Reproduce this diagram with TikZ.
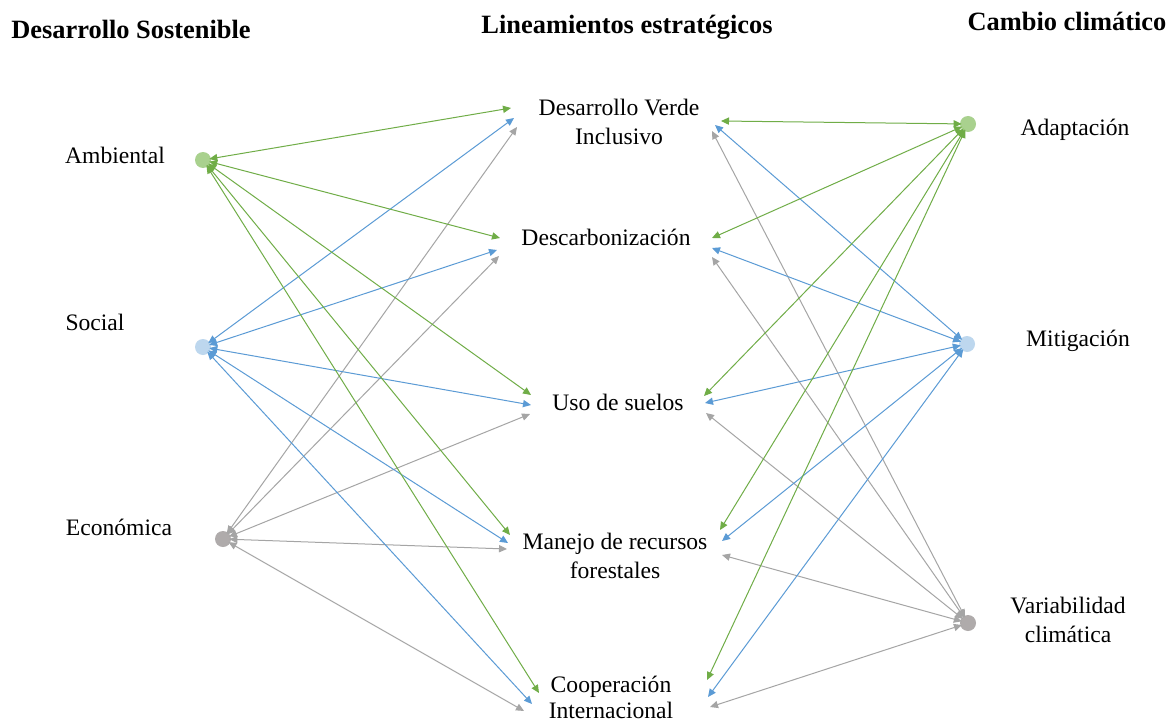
\documentclass[tikz,border=0pt]{standalone}
\usepackage{fontspec}
\setmainfont{Liberation Serif}
\usetikzlibrary{arrows.meta}
\definecolor{gline}{HTML}{70AD47}
\definecolor{bline}{HTML}{5B9BD5}
\definecolor{yline}{HTML}{A5A5A5}
\definecolor{gdot}{HTML}{A9D18E}
\definecolor{bdot}{HTML}{BDD7EE}
\definecolor{ydot}{HTML}{AFABAB}
\begin{document}
\begin{tikzpicture}[x=0.5pt,y=-0.5pt,
  lbl/.style={font=\fontsize{11.8}{14.5}\selectfont, align=center, inner sep=0pt},
  hdr/.style={font=\fontsize{13.2}{15}\selectfont\bfseries, inner sep=0pt, anchor=base},
  dot/.style={circle, minimum size=8pt, inner sep=0pt, draw=none},
  con/.style={line width=0.5pt, shorten <=-1pt, {Triangle[length=4pt,width=3.6pt]}-{Triangle[length=4pt,width=3.6pt]}},
  gc/.style={con, draw=gline},
  bc/.style={con, draw=bline},
  yc/.style={con, draw=yline}]
\useasboundingbox (0,0) rectangle (1172,722);
\fill[white] (0,0) rectangle (1172,722);

% headers
\node[hdr] (h1) at (131,39) {Desarrollo Sostenible};
\node[hdr] (h2) at (627,34) {Lineamientos estratégicos};
\node[hdr] (h3) at (1067,31) {Cambio climático};

% left labels
\node[lbl, anchor=base] (tamb) at (115,163) {Ambiental};
\node[lbl, anchor=base] (tsoc) at (95,330) {Social};
\node[lbl, anchor=base] (teco) at (119,535) {Económica};

% middle labels
\node[lbl] (tdvi) at (619,121.5) {Desarrollo Verde\\Inclusivo};
\node[lbl, anchor=base] (tdes) at (606,245) {Descarbonización};
\node[lbl, anchor=base] (tuso) at (618,410) {Uso de suelos};
\node[lbl] (tman) at (615,556) {Manejo de recursos\\forestales};
\node[lbl, font=\fontsize{11.8}{13}\selectfont] (tcoo) at (611,697) {Cooperación\\Internacional};

% right labels
\node[lbl, anchor=base] (tada) at (1075,135) {Adaptación};
\node[lbl, anchor=base] (tmit) at (1078,346) {Mitigación};
\node[lbl] (tvar) at (1068,619.5) {Variabilidad\\climática};

% dots
\node[dot, fill=gdot] (amb) at (203,160) {};
\node[dot, fill=bdot] (soc) at (203,347) {};
\node[dot, fill=ydot] (eco) at (223,539) {};
\node[dot, fill=gdot] (ada) at (968,124) {};
\node[dot, fill=bdot] (mit) at (967,344) {};
\node[dot, fill=ydot] (var) at (968,623) {};

% middle ends, left side
\coordinate (gL1) at (511,108);
\coordinate (bL1) at (514,118);
\coordinate (yL1) at (517,127);
\coordinate (gL2) at (500,238);
\coordinate (bL2) at (497,250);
\coordinate (yL2) at (499,256);
\coordinate (gL3) at (531,395);
\coordinate (bL3) at (531,405);
\coordinate (yL3) at (530,414);
\coordinate (gL4) at (510,535);
\coordinate (bL4) at (508,543);
\coordinate (yL4) at (507,549);
\coordinate (gL5) at (539,693);
\coordinate (bL5) at (532,704);
\coordinate (yL5) at (524,711);

% middle ends, right side
\coordinate (gR1) at (721,121);
\coordinate (bR1) at (715,125);
\coordinate (yR1) at (712,131);
\coordinate (gR2) at (712,238);
\coordinate (bR2) at (712,248);
\coordinate (yR2) at (712,257);
\coordinate (gR3) at (704,396);
\coordinate (bR3) at (705,403);
\coordinate (yR3) at (706,413);
\coordinate (gR4) at (720,530);
\coordinate (bR4) at (722,541);
\coordinate (yR4) at (722,555);
\coordinate (gR5) at (707,680);
\coordinate (bR5) at (708,697);
\coordinate (yR5) at (710,707);

% gray connectors
\foreach \i in {1,...,5} {
  \draw[yc] (eco) -- (yL\i);
  \draw[yc] (var) -- (yR\i);
}
% blue connectors
\foreach \i in {1,...,5} {
  \draw[bc] (soc) -- (bL\i);
  \draw[bc] (mit) -- (bR\i);
}
% green connectors
\foreach \i in {1,...,5} {
  \draw[gc] (amb) -- (gL\i);
  \draw[gc] (ada) -- (gR\i);
}
\end{tikzpicture}
\end{document}
